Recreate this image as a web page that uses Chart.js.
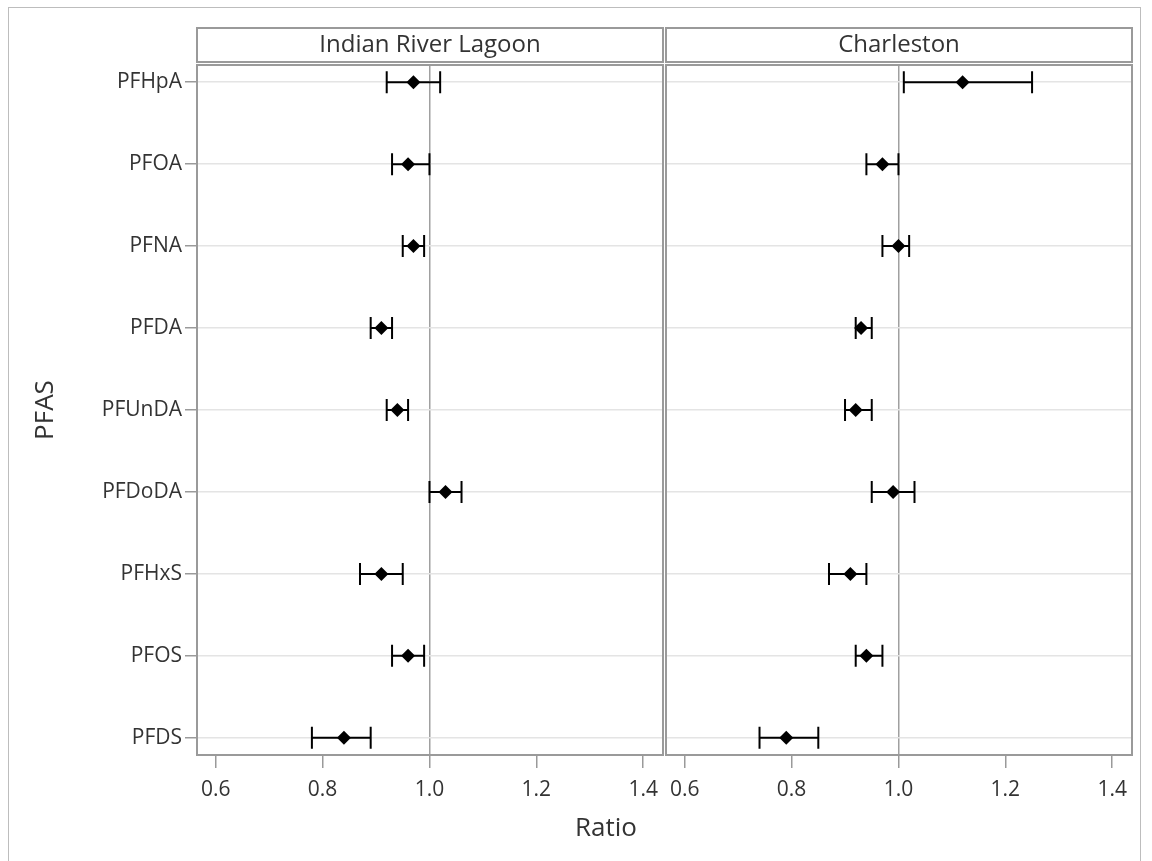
<!DOCTYPE html>
<html>
<head>
<meta charset="utf-8">
<script src="https://cdn.jsdelivr.net/npm/chart.js@4"></script>
<style>
    html, body { margin: 0; padding: 0; background: #fff; overflow: hidden; }
    #wrap { position: relative; width: 1152px; height: 861px; }
    #frame { position: absolute; left: 8px; top: 7px; width: 1133px; height: 900px; border: 1px solid #bdbdbd; box-sizing: border-box; }
    #leftBox { position: absolute; left: 0; top: 0; width: 670px; height: 861px; }
    #rightBox { position: absolute; left: 659px; top: 0; width: 493px; height: 861px; }
</style>
</head>
<body>
<div id="wrap">
    <div id="frame"></div>
    <div id="leftBox"><canvas id="irlChart"></canvas></div>
    <div id="rightBox"><canvas id="chsChart"></canvas></div>
</div>
<script>
const pfas = ['PFHpA', 'PFOA', 'PFNA', 'PFDA', 'PFUnDA', 'PFDoDA', 'PFHxS', 'PFOS', 'PFDS'];
const xTicks = [0.6, 0.8, 1.0, 1.2, 1.4];

// Indian River Lagoon
const irlRatio = [0.97, 0.96, 0.97, 0.91, 0.94, 1.03, 0.91, 0.96, 0.84];
const irlLower = [0.92, 0.93, 0.95, 0.89, 0.92, 1.00, 0.87, 0.93, 0.78];
const irlUpper = [1.02, 1.00, 0.99, 0.93, 0.96, 1.06, 0.95, 0.99, 0.89];

// Charleston
const chsRatio = [1.12, 0.97, 1.00, 0.93, 0.92, 0.99, 0.91, 0.94, 0.79];
const chsLower = [1.01, 0.94, 0.97, 0.92, 0.90, 0.95, 0.87, 0.92, 0.74];
const chsUpper = [1.25, 1.00, 1.02, 0.95, 0.95, 1.03, 0.94, 0.97, 0.85];

const FONT = "'Open Sans', 'DejaVu Sans', sans-serif";
const TEXT = '#333';
const BORDER = '#9a9a9a';

const errorBars = {
    id: 'errorBars',
    beforeDatasetsDraw(chart, args, opts) {
        const { ctx } = chart;
        const xs = chart.scales.x;
        const ys = chart.scales.y;
        ctx.save();
        ctx.strokeStyle = '#000';
        ctx.lineWidth = 2;
        opts.lower.forEach((lo, i) => {
            const y = ys.getPixelForValue(i);
            const x1 = xs.getPixelForValue(lo);
            const x2 = xs.getPixelForValue(opts.upper[i]);
            ctx.beginPath();
            ctx.moveTo(x1, y);
            ctx.lineTo(x2, y);
            ctx.moveTo(x1, y - 11);
            ctx.lineTo(x1, y + 11);
            ctx.moveTo(x2, y - 11);
            ctx.lineTo(x2, y + 11);
            ctx.stroke();
        });
        ctx.restore();
    },
};

const panelFrame = {
    id: 'panelFrame',
    afterDraw(chart, args, opts) {
        const { ctx, chartArea: a } = chart;
        ctx.save();
        ctx.strokeStyle = BORDER;
        ctx.lineWidth = 2;
        ctx.strokeRect(a.left, a.top, a.right - a.left, a.bottom - a.top);
        // header strip
        const hTop = a.top - 37;
        ctx.strokeRect(a.left, hTop, a.right - a.left, 34);
        ctx.fillStyle = TEXT;
        ctx.font = `24px ${FONT}`;
        ctx.textAlign = 'center';
        ctx.textBaseline = 'middle';
        ctx.fillText(opts.title, (a.left + a.right) / 2, hTop + 17);
        if (opts.xTitle) {
            ctx.font = `26px ${FONT}`;
            ctx.fillText(opts.xTitle, opts.xTitleX, opts.xTitleY);
        }
        ctx.restore();
    },
};

function makePanel(canvasId, title, ratio, lower, upper, isLeft) {
    const canvas = document.getElementById(canvasId);
    return new Chart(canvas.getContext('2d'), {
        type: 'scatter',
        data: {
            datasets: [
                {
                    label: title,
                    data: ratio.map((v, i) => ({ x: v, y: i })),
                    pointStyle: 'rectRot',
                    pointRadius: 7,
                    pointHoverRadius: 7,
                    backgroundColor: '#000',
                    borderColor: '#000',
                    borderWidth: 0,
                },
            ],
        },
        options: {
            responsive: true,
            maintainAspectRatio: false,
            animation: false,
            events: [],
            layout: {
                padding: { top: 65, bottom: 0, left: 0, right: isLeft ? 2 : 20 },
            },
            plugins: {
                legend: { display: false },
                tooltip: { enabled: false },
                errorBars: { lower, upper },
                panelFrame: {
                    title,
                    xTitle: isLeft ? 'Ratio' : null,
                    xTitleX: 606,
                    xTitleY: 829,
                },
            },
            scales: {
                x: {
                    type: 'linear',
                    min: 0.565,
                    max: 1.437,
                    afterBuildTicks: (s) => { s.ticks = xTicks.map((v) => ({ value: v })); },
                    afterFit: (s) => { s.height = 106; },
                    border: { display: false },
                    grid: {
                        color: (c) => (c.tick && Math.abs(c.tick.value - 1) < 1e-6 ? '#a0a0a0' : 'transparent'),
                        lineWidth: 1.5,
                        tickColor: BORDER,
                        tickLength: 13,
                        tickWidth: 1.5,
                    },
                    ticks: {
                        color: TEXT,
                        font: { family: FONT, size: 21 },
                        padding: 9,
                        maxRotation: 0,
                        autoSkip: false,
                        callback: (v) => v.toFixed(1),
                    },
                },
                y: {
                    type: 'linear',
                    reverse: true,
                    min: -0.21,
                    max: 8.21,
                    afterBuildTicks: (s) => { s.ticks = pfas.map((_, i) => ({ value: i })); },
                    afterFit: (s) => { s.width = isLeft ? 197 : 3; },
                    border: { display: false },
                    grid: {
                        color: '#e4e4e4',
                        lineWidth: 1.5,
                        drawTicks: isLeft,
                        tickColor: BORDER,
                        tickLength: 12,
                        tickWidth: 1.5,
                    },
                    ticks: {
                        display: isLeft,
                        color: TEXT,
                        font: { family: FONT, size: 21 },
                        padding: 3,
                        autoSkip: false,
                        callback: (v) => pfas[v],
                    },
                    title: {
                        display: isLeft,
                        text: 'PFAS',
                        color: TEXT,
                        font: { family: FONT, size: 26 },
                        padding: { top: 30, bottom: 0 },
                    },
                },
            },
        },
        plugins: [errorBars, panelFrame],
    });
}

makePanel('irlChart', 'Indian River Lagoon', irlRatio, irlLower, irlUpper, true);
makePanel('chsChart', 'Charleston', chsRatio, chsLower, chsUpper, false);
</script>
</body>
</html>
